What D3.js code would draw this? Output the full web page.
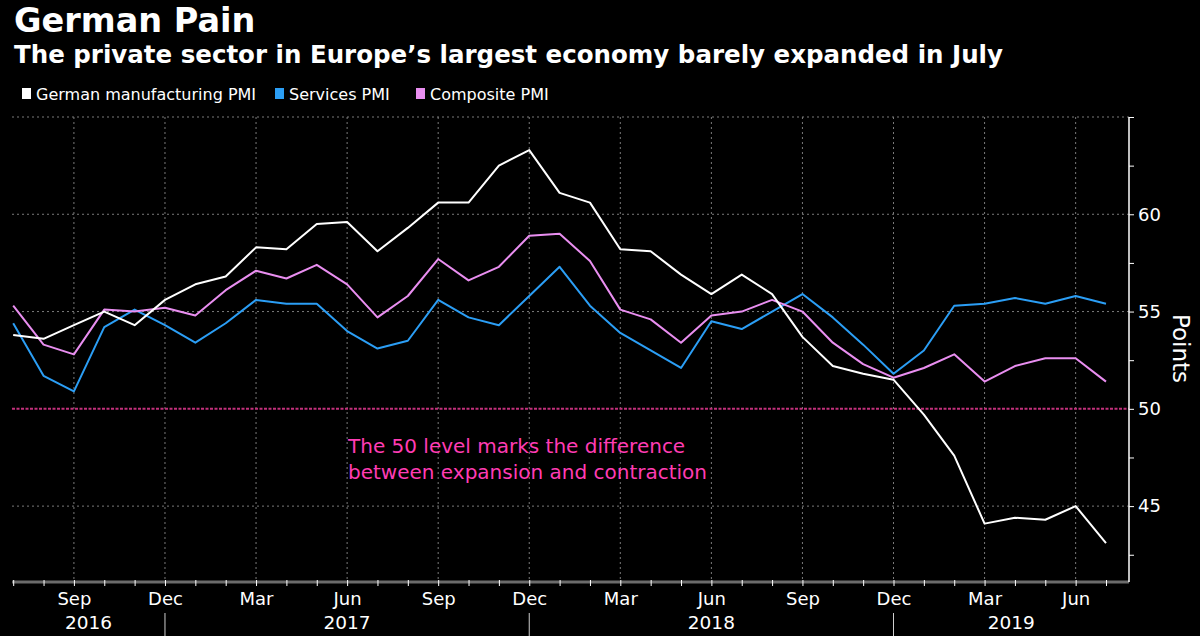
<!DOCTYPE html>
<html>
    <head>
        <meta charset="utf-8" />
        <script src="https://d3js.org/d3.v7.min.js"></script>
        <style type="text/css">
            html, body {
                margin: 0;
                padding: 0;
                background-color: #000;
            }

            svg#mainSvg {
                display: block;
                background-color: #000;
            }

            text {
                fill: #fff;
                font-family: "DejaVu Sans", sans-serif;
            }

            text.title {
                font-weight: bold;
            }

            .grid line {
                stroke: #7a7a7a;
                stroke-width: 1;
                stroke-dasharray: 2, 3;
            }
        </style>
    </head>

    <body>
        <svg id="mainSvg" width="1200" height="636"></svg>

        <script type="text/javascript">
            // Months, Jul 2016 .. Jul 2019
            const months = [
                "2016-07", "2016-08", "2016-09", "2016-10", "2016-11", "2016-12",
                "2017-01", "2017-02", "2017-03", "2017-04", "2017-05", "2017-06",
                "2017-07", "2017-08", "2017-09", "2017-10", "2017-11", "2017-12",
                "2018-01", "2018-02", "2018-03", "2018-04", "2018-05", "2018-06",
                "2018-07", "2018-08", "2018-09", "2018-10", "2018-11", "2018-12",
                "2019-01", "2019-02", "2019-03", "2019-04", "2019-05", "2019-06",
                "2019-07",
            ];

            const manufacturing = [
                53.8, 53.6, 54.3, 55.0, 54.3, 55.6,
                56.4, 56.8, 58.3, 58.2, 59.5, 59.6, 58.1, 59.3, 60.6, 60.6, 62.5, 63.3,
                61.1, 60.6, 58.2, 58.1, 56.9, 55.9, 56.9, 55.9, 53.7, 52.2, 51.8, 51.5,
                49.7, 47.6, 44.1, 44.4, 44.3, 45.0, 43.1,
            ];

            const services = [
                54.4, 51.7, 50.9, 54.2, 55.1, 54.3,
                53.4, 54.4, 55.6, 55.4, 55.4, 54.0, 53.1, 53.5, 55.6, 54.7, 54.3, 55.8,
                57.3, 55.3, 53.9, 53.0, 52.1, 54.5, 54.1, 55.0, 55.9, 54.7, 53.3, 51.8,
                53.0, 55.3, 55.4, 55.7, 55.4, 55.8, 55.4,
            ];

            const composite = [
                55.3, 53.3, 52.8, 55.1, 55.0, 55.2,
                54.8, 56.1, 57.1, 56.7, 57.4, 56.4, 54.7, 55.8, 57.7, 56.6, 57.3, 58.9,
                59.0, 57.6, 55.1, 54.6, 53.4, 54.8, 55.0, 55.6, 55.0, 53.4, 52.3, 51.6,
                52.1, 52.8, 51.4, 52.2, 52.6, 52.6, 51.4,
            ];

            const seriesNames = ["German manufacturing PMI", "Services PMI", "Composite PMI"];
            const seriesColors = ["#ffffff", "#2b9ef5", "#e98ef0"];

            const monthNames = ["Jan", "Feb", "Mar", "Apr", "May", "Jun",
                "Jul", "Aug", "Sep", "Oct", "Nov", "Dec"];
            const yTicks = [42.5, 45, 47.5, 50, 52.5, 55, 57.5, 60, 62.5, 65];
            const yLabels = [45, 50, 55, 60];
            const years = ["2016", "2017", "2018", "2019"];
        </script>

        <script type="text/javascript">
            const svg = d3.select("#mainSvg");

            // Plot frame
            const plotLeft = 12, plotRight = 1129, plotTop = 117, plotBottom = 582;

            const x = d3.scalePoint().domain(months).range([13.2, 1106]);
            const y = d3.scaleLinear().domain([41.1, 65]).range([plotBottom, plotTop]);

            const monthOf = (m) => +m.slice(5, 7);
            const quarterly = months.filter((m) => monthOf(m) % 3 === 0);

            // Titles
            svg.append("text").attr("class", "title")
                .attr("x", 14).attr("y", 32)
                .style("font-size", "33.5px")
                .text("German Pain");

            svg.append("text").attr("class", "title")
                .attr("x", 14).attr("y", 63)
                .style("font-size", "24.5px")
                .text("The private sector in Europe\u2019s largest economy barely expanded in July");

            // Legend
            const legendX = [22, 275, 416];
            const lg = svg.append("g")
                .selectAll("g")
                .data(seriesNames)
                .enter()
                .append("g")
                .attr("transform", (d, i) => "translate(" + legendX[i] + ",0)");
            lg.append("rect")
                .attr("x", 0).attr("y", 88)
                .attr("width", 9).attr("height", 11)
                .style("fill", (d, i) => seriesColors[i]);
            lg.append("text")
                .attr("x", 14).attr("y", 100)
                .style("font-size", "16px")
                .text((d) => d);

            // Grid
            const grid = svg.append("g").attr("class", "grid");
            grid.selectAll("line.h")
                .data([45, 55, 60, 65])
                .enter()
                .append("line")
                .attr("x1", plotLeft).attr("x2", plotRight)
                .attr("y1", (d) => y(d)).attr("y2", (d) => y(d));
            grid.selectAll("line.v")
                .data(quarterly)
                .enter()
                .append("line")
                .attr("x1", (d) => x(d)).attr("x2", (d) => x(d))
                .attr("y1", plotTop).attr("y2", plotBottom);

            // The 50 level
            svg.append("line")
                .attr("x1", plotLeft).attr("x2", plotRight)
                .attr("y1", y(50)).attr("y2", y(50))
                .style("stroke", "#c2307c")
                .style("stroke-width", 2)
                .style("stroke-dasharray", "3,1.5");

            svg.append("text")
                .attr("x", 348).attr("y", 453)
                .style("fill", "#ff3cb4")
                .style("font-size", "20px")
                .selectAll("tspan")
                .data(["The 50 level marks the difference", "between expansion and contraction"])
                .enter()
                .append("tspan")
                .attr("x", 348)
                .attr("dy", (d, i) => (i === 0 ? 0 : 26))
                .text((d) => d);

            // Lines, white drawn last so it sits on top
            const line = d3.line()
                .x((d, i) => x(months[i]))
                .y((d) => y(d));
            const allSeries = [manufacturing, services, composite];
            [1, 2, 0].forEach((k) => {
                svg.append("path")
                    .datum(allSeries[k])
                    .attr("d", line)
                    .style("fill", "none")
                    .style("stroke", seriesColors[k])
                    .style("stroke-width", 2)
                    .style("stroke-linejoin", "round");
            });

            // Bottom axis
            const xAxis = svg.append("g")
                .attr("transform", "translate(0," + plotBottom + ")")
                .call(
                    d3.axisBottom(x)
                        .tickSize(4)
                        .tickPadding(6)
                        .tickFormat((d) => (monthOf(d) % 3 === 0 ? monthNames[monthOf(d) - 1] : ""))
                );
            xAxis.select(".domain").remove();
            xAxis.insert("line", ":first-child")
                .attr("x1", plotLeft).attr("x2", plotRight)
                .style("stroke", "#6b6b6b")
                .style("stroke-width", 3);
            xAxis.selectAll(".tick line").style("stroke", "#fff").attr("y1", -2);
            xAxis.selectAll(".tick text")
                .style("font-size", "18px")
                .style("fill", "#fff")
                .attr("font-family", null);

            // Year separators at Dec, year labels centred between them
            const decs = months.filter((m) => monthOf(m) === 12);
            const bounds = [plotLeft].concat(decs.map((d) => x(d))).concat([plotRight]);
            svg.append("g")
                .selectAll("line")
                .data(decs)
                .enter()
                .append("line")
                .attr("x1", (d) => x(d)).attr("x2", (d) => x(d))
                .attr("y1", 613).attr("y2", 636)
                .style("stroke", "#cfcfcf")
                .style("stroke-width", 1);
            svg.append("g")
                .selectAll("text")
                .data(years)
                .enter()
                .append("text")
                .attr("x", (d, i) => (bounds[i] + bounds[i + 1]) / 2)
                .attr("y", 629)
                .attr("text-anchor", "middle")
                .style("font-size", "18.5px")
                .text((d) => d);

            // Right axis
            const yAxis = svg.append("g")
                .attr("transform", "translate(" + plotRight + ",0)")
                .call(
                    d3.axisRight(y)
                        .tickValues(yTicks)
                        .tickSize(5)
                        .tickPadding(4)
                        .tickFormat((d) => (yLabels.includes(d) ? d : ""))
                );
            yAxis.select(".domain")
                .attr("d", "M0," + plotTop + "V" + plotBottom)
                .style("stroke", "#fff")
                .style("stroke-width", 1.5);
            yAxis.selectAll(".tick line").style("stroke", "#fff");
            yAxis.selectAll(".tick text")
                .style("font-size", "18px")
                .style("fill", "#fff")
                .attr("font-family", null);

            svg.append("text")
                .attr("transform", "translate(1173," + y(53.1) + ") rotate(90)")
                .attr("text-anchor", "middle")
                .style("font-size", "23px")
                .text("Points");
        </script>
    </body>
</html>
